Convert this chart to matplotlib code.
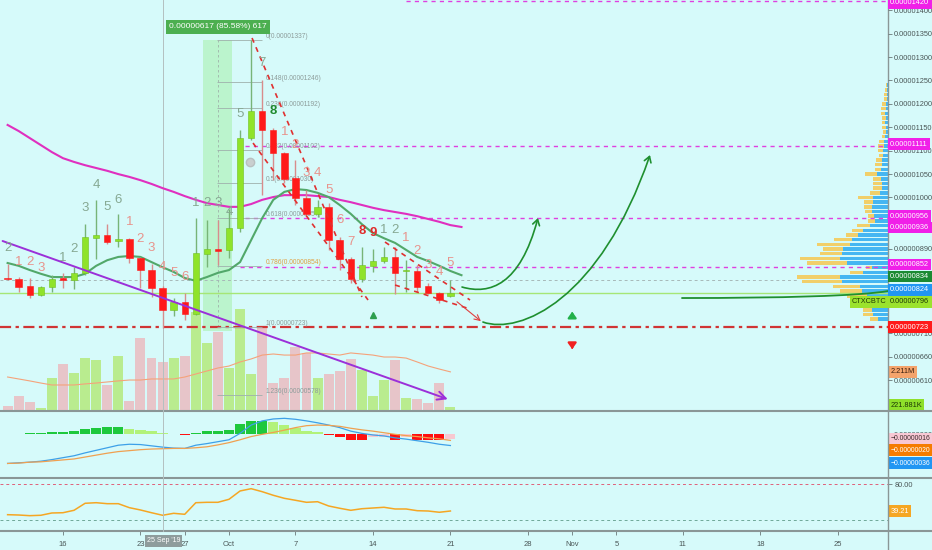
import matplotlib
matplotlib.use('Agg')
import matplotlib.pyplot as plt
import matplotlib.dates as mdates
from matplotlib.lines import Line2D
from matplotlib.patches import FancyArrowPatch, Rectangle
from matplotlib.path import Path
import pandas as pd

plt.rcParams['font.family'] = ['Liberation Sans', 'DejaVu Sans']

FOND = '#d6fafa'
LARG, HAUT = 932, 550

# ============================================================
# DONNEES  (prix en satoshis, 1e-8 BTC)
# ============================================================
dates = pd.date_range('2019-09-11', '2019-10-21', freq='D')

ouverture = [828, 826, 811, 792, 809, 828, 824, 839, 913, 920, 907, 911, 871, 845,
             807, 760, 777, 751, 879, 890, 888, 935, 1127, 1185, 1144, 1095, 1042,
             999, 965, 980, 909, 869, 826, 854, 864, 873, 843, 843, 811, 796, 790]
haut = [858, 830, 828, 811, 834, 839, 851, 943, 995, 943, 965, 913, 873, 858,
        811, 785, 796, 956, 952, 952, 975, 1144, 1337, 1251, 1149, 1097, 1080,
        1016, 995, 988, 916, 873, 894, 890, 894, 894, 866, 856, 817, 798, 824]
bas = [824, 798, 785, 790, 798, 807, 804, 834, 869, 901, 894, 860, 807, 787,
       722, 747, 738, 749, 851, 856, 871, 926, 1123, 1005, 1037, 1031, 984,
       960, 958, 888, 845, 817, 819, 841, 860, 794, 798, 798, 794, 775, 787]
cloture = [825, 809, 792, 809, 826, 824, 839, 916, 920, 905, 911, 871, 845, 807,
           760, 777, 751, 881, 890, 886, 935, 1127, 1185, 1144, 1095, 1040, 999,
           965, 980, 909, 869, 826, 856, 864, 873, 839, 845, 809, 796, 781, 796]

# volume en millions et sa moyenne
volume = [0.28, 0.85, 0.51, 0.17, 1.86, 2.66, 2.15, 2.99, 2.88, 1.47, 3.11, 0.57,
          4.12, 2.99, 2.77, 2.99, 3.11, 5.59, 3.84, 4.46, 2.43, 5.76, 2.09, 4.75,
          1.58, 1.86, 3.62, 3.28, 1.86, 2.09, 2.26, 2.94, 2.32, 0.85, 1.75, 2.88,
          0.73, 0.68, 0.45, 1.58, 0.222]
volume_moy = [1.92, 1.81, 1.70, 1.58, 1.47, 1.47, 1.47, 1.53, 1.58, 1.64, 1.70,
              1.75, 1.75, 1.81, 1.81, 1.81, 1.92, 2.09, 2.26, 2.43, 2.54, 2.77,
              2.94, 3.16, 3.22, 3.16, 3.16, 3.28, 3.28, 3.22, 3.16, 3.28, 3.22,
              3.16, 3.05, 3.05, 2.99, 2.77, 2.54, 2.37, 2.211]

# moyennes mobiles (une valeur de plus : decalage d'un jour)
mm_lente = [1155, 1142, 1127, 1112, 1097, 1084, 1076, 1069, 1063, 1057, 1050, 1044,
            1037, 1029, 1020, 1012, 1003, 995, 988, 984, 980, 980, 986, 995, 1001,
            1005, 1005, 1005, 1003, 1001, 995, 990, 984, 978, 973, 969, 965, 960,
            954, 948, 941, 937]
mm_rapide = [860, 854, 845, 837, 830, 830, 830, 837, 854, 866, 873, 875, 873, 862,
             851, 841, 828, 822, 830, 839, 845, 862, 909, 956, 995, 1012, 1018,
             1016, 1010, 1001, 984, 965, 943, 924, 913, 903, 888, 873, 864, 854,
             843, 834]

# MACD (satoshis)
macd = [-92, -90, -88, -85, -80, -74, -68, -59, -51, -43, -35, -32, -33, -37, -41,
        -44, -45, -35, -30, -24, -18, 2, 28, 41, 47, 49, 46, 41, 35, 28, 20, 9, 2,
        -3, -6, -12, -16, -21, -26, -32, -36]
signal = [-92, -91, -88, -87, -84, -81, -78, -72, -66, -60, -55, -52, -49, -47, -46,
          -45, -45, -43, -40, -34, -27, -18, -8, -1, 5, 12, 20, 26, 28, 27, 24, 18,
          13, 9, 4, -1, -5, -8, -12, -15, -20]
histo = [-0.5, 0.5, 2, 3, 5, 7, 9, 15, 19, 21, 21, 17, 14, 8, 3, 1, -2, 2, 8, 10,
         14, 30, 40, 42, 38, 28, 18, 10, 5, -2, -10, -20, -20, -10, -8, -18, -10,
         -18, -18, -18, -16]

rsi = [33.6, 33.1, 32.1, 32.7, 36.2, 36.6, 40.3, 51.0, 51.9, 50.4, 50.4, 44.3, 40.8,
       36.6, 32.7, 35.7, 34.2, 51.9, 52.5, 52.5, 57.1, 69.8, 73.3, 68.7, 63.2, 58.6,
       55.6, 52.5, 53.4, 46.9, 43.4, 40.3, 42.7, 43.8, 44.9, 42.3, 42.3, 39.7, 39.2,
       37.3, 39.21]

# profil de volume (prix, part bleue, part jaune)
profil_prix = list(range(740, 1250, 10))
profil_bleu = [10, 15, 16, 18, 19, 21, 26, 28, 46, 48, 25, 16, 41, 48, 46, 45, 38,
               36, 30, 25, 18, 13, 14, 16, 16, 15, 15, 8, 6, 6, 7, 11, 7, 6, 6, 5,
               5, 4, 4, 3, 2, 2, 3, 2, 3, 2, 2, 1, 1, 1, 1]
profil_jaune = [8, 10, 9, 10, 12, 20, 22, 27, 40, 43, 13, 6, 40, 40, 22, 20, 33, 18,
                12, 11, 13, 7, 6, 7, 8, 9, 15, 10, 9, 9, 8, 12, 6, 7, 6, 4, 5, 6,
                5, 3, 3, 4, 3, 4, 4, 5, 4, 3, 3, 2, 1]

# comptage sequentiel : (bougie, texte, style, prix)
comptes = [(0, '2', 'g', 892), (1, '1', 's', 862), (2, '2', 's', 862), (3, '3', 's', 849),
           (5, '1', 'g', 871), (6, '2', 'g', 890), (7, '3', 'g', 978), (8, '4', 'g', 1027),
           (9, '5', 'g', 980), (10, '6', 'g', 995), (11, '1', 's', 948), (12, '2', 's', 911),
           (13, '3', 's', 892), (14, '4', 's', 851), (15, '5', 's', 839), (16, '6', 's', 830),
           (17, '1', 'g', 988), (18, '2', 'g', 988), (19, '3', 'g', 988), (20, '4', 'g', 969),
           (21, '5', 'g', 1178), (23, '7', 'g', 1287), (24, '8', 'G', 1185),
           (25, '1', 's', 1140), (26, '2', 's', 1112), (27, '3', 's', 1052),
           (28, '4', 's', 1052), (29, '5', 's', 1016), (30, '6', 's', 952),
           (31, '7', 's', 905), (32, '8', 'R', 928), (33, '9', 'R', 924),
           (34, '1', 'g', 931), (35, '2', 'g', 931), (36, '1', 's', 913),
           (37, '2', 's', 886), (38, '3', 's', 856), (39, '4', 's', 841), (40, '5', 's', 860)]

# retracement de Fibonacci
fib_niveaux = ['0', '0.148', '0.236', '0.382', '0.5', '0.618', '0.786', '1', '1.236']
fib_prix = [1337, 1246, 1192, 1102, 1030, 957, 854, 723, 578]

graduations = [1400, 1350, 1300, 1250, 1200, 1150, 1100, 1050, 1000, 890, 710, 660, 610]
jours_dates = [5, 12, 16, 20, 26, 33, 40, 47, 51, 55, 61, 68, 75]
noms_dates = ['16', '23', '27', 'Oct', '7', '14', '21', '28', 'Nov', '5', '11', '18', '25']

# ============================================================
# MISE EN PAGE
# ============================================================
fig = plt.figure(figsize=(LARG / 100, HAUT / 100), dpi=100, facecolor=FOND)


def panneau(y_haut, y_bas, nom, gauche=0, droite=888):
    return fig.add_axes([gauche / LARG, 1 - y_bas / HAUT, (droite - gauche) / LARG,
                         (y_bas - y_haut) / HAUT], label=nom)


axv = panneau(0, 411, 'volume')
axp = panneau(0, 411, 'profil', gauche=738)
ax = panneau(0, 411, 'prix')
axm = panneau(411, 478, 'macd')
axr = panneau(478, 531, 'rsi')
axv.set_zorder(0)
axp.set_zorder(1)
ax.set_zorder(2)
ax.patch.set_visible(False)
for a in (axm, axr):
    a.set_facecolor(FOND)

x = mdates.date2num(dates)
x0 = x[0]


def j(d):
    return x0 + d


for a in (ax, axv, axm, axr):
    a.set_xlim(j(-0.687), j(79.53))
    for s in a.spines.values():
        s.set_visible(False)
ax.set_ylim(543.8, 1422.0)
axp.set_ylim(543.8, 1422.0)
axp.set_xlim(150, 0)
axv.set_ylim(0, 23.22)
axm.set_ylim(-137.5, 71.9)
axr.set_ylim(8.7, 89.6)
axv.axis('off')
axp.axis('off')

TXT = '#4a5656'
for a in (ax, axm, axr):
    a.yaxis.tick_right()
    a.tick_params(axis='y', length=3, width=0.6, color='#6a7878', labelsize=5.3,
                  labelcolor=TXT, pad=1.5)
ax.set_yticks(graduations)
ax.set_yticklabels([f'{v * 1e-8:.8f}' for v in graduations])
axm.set_yticks([0])
axm.set_yticklabels(['0.00000000'])
axr.set_yticks([80])
axr.set_yticklabels(['80.00'])
ax.set_xticks([])
axm.set_xticks([])
axr.set_xticks([j(d) for d in jours_dates])
axr.set_xticklabels(noms_dates)
axr.tick_params(axis='x', length=3, width=0.6, color='#6a7878', labelsize=5.5,
                labelcolor=TXT, pad=4)

# separateurs
for yy in (411, 478, 531):
    fig.add_artist(Line2D([0, 1], [1 - yy / HAUT] * 2, color='#8a9696', lw=1.5))
fig.add_artist(Line2D([888 / LARG] * 2, [0, 1], color='#8a9696', lw=1))
fig.add_artist(Line2D([162.6 / LARG] * 2, [1 - 531 / HAUT, 1], color='#b3c0c0', lw=0.7))
fig.text(163.5 / LARG, 1 - 541 / HAUT, "25 Sep '19", fontsize=5.0, color='white',
         ha='center', va='center',
         bbox=dict(boxstyle='square,pad=0.3', fc='#8e9c9c', ec='none'))

# ============================================================
# VOLUME + PROFIL
# ============================================================
hausse = [c >= o for o, c in zip(ouverture, cloture)]
axv.bar(x, volume, width=0.9, color=['#b9ec8f' if h else '#e7c5c9' for h in hausse])
axv.plot(x, volume_moy, color='#f5a27a', lw=0.8)

axp.barh(profil_prix, profil_bleu, height=7.5, color='#45b6f2')
axp.barh(profil_prix, profil_jaune, left=profil_bleu, height=7.5, color='#f1cf6a')

# ============================================================
# GRAPHIQUE PRINCIPAL
# ============================================================
ax.add_patch(Rectangle((j(17.65), 715), 2.65, 1337 - 715, fc='#b2f3bf', ec='none',
                       alpha=0.75, zorder=1))
ax.vlines(j(19.0), 723, 1337, colors='#9fb3aa', lw=0.6, linestyles=(0, (3, 3)), zorder=1)

# niveaux horizontaux
ax.hlines([1420], j(36.0), j(79.53), colors='#e040e0', lw=1, linestyles=(0, (3, 3)), zorder=2)
ax.hlines([1111, 956], j(21.45), j(79.53), colors='#e040e0', lw=1, linestyles=(0, (3, 3)), zorder=2)
ax.hlines([852], j(21.0), j(79.53), colors='#e040e0', lw=1, linestyles=(0, (3, 3)), zorder=2)
ax.hlines([824], j(-0.687), j(71.3), colors='#a7b8b8', lw=0.7, linestyles=(0, (3, 3)), zorder=2)
ax.axhline(796, color='#a6e676', lw=1, zorder=2)
ax.axhline(723, color='#d03434', lw=1.6, ls=(0, (5, 2, 1.5, 2)), zorder=2)

# fibonacci
for niv, p in zip(fib_niveaux, fib_prix):
    ax.hlines(p, j(18.9), j(23.0), colors='#9fb0ac', lw=0.6, zorder=2)
    ax.text(j(23.3), p, f'{niv}({p * 1e-8:.8f})', fontsize=4.8,
            color='#e0a040' if niv == '0.786' else '#8d9c9a', va='bottom', zorder=2)

ax.text(j(19.0), 1365, '0.00000617 (85.58%) 617', fontsize=6, color='white',
        ha='center', va='center', zorder=8,
        bbox=dict(boxstyle='square,pad=0.4', fc='#4caf50', ec='none'))

# moyennes mobiles
x_mm = list(x) + [x[-1] + 1]
ax.plot(x_mm, mm_lente, color='#e02fbf', lw=1.5, zorder=3)
ax.plot(x_mm, mm_rapide, color='#52a86a', lw=1.5, zorder=3)

# ligne de tendance violette
ax.annotate('', xy=(j(40), 567), xytext=(j(-0.687), 909), zorder=6,
            arrowprops=dict(arrowstyle='->,head_length=0.6,head_width=0.3',
                            color='#9b30d9', lw=1.4))

# biseau descendant
biseau = [((22.08, 1340.8), (32.01, 787.4)), ((22.17, 1116.4), (32.56, 781.0)),
          ((34.09, 904.9), (41.77, 781.0)), ((35.0, 813.0), (41.77, 761.7))]
for (d1, p1), (d2, p2) in biseau:
    ax.plot([j(d1), j(d2)], [p1, p2], color='#e03030', lw=1.2, ls=(0, (3, 3)), zorder=6)
ax.annotate('', xy=(j(42.95), 732), xytext=(j(40.4), 781), zorder=6,
            arrowprops=dict(arrowstyle='->', color='#e04040', lw=0.8))

# bougies
mv = ['#78b478' if h else '#d88c8c' for h in hausse]
ax.vlines(x, bas, haut, colors=mv, lw=1, zorder=4)
corps_bas = [min(o, c) for o, c in zip(ouverture, cloture)]
corps_h = [max(abs(c - o), 1.5) for o, c in zip(ouverture, cloture)]
ax.bar(x, corps_h, bottom=corps_bas, width=0.58,
       color=['#8fe32a' if h else '#ff1a1a' for h in hausse],
       edgecolor=['#6fc01e' if h else '#ff1a1a' for h in hausse], lw=0.4, zorder=5)

# comptage
styles = {'g': dict(color='#86a892'), 's': dict(color='#e8938c'),
          'G': dict(color='#1f8a2e', fontweight='bold'),
          'R': dict(color='#e02a2a', fontweight='bold')}
for i, t, st, p in comptes:
    ax.text(x[i], p, t, fontsize=9.5, ha='center', va='center', zorder=7, **styles[st])

ax.plot(j(21.9), 1076, 'o', ms=6, color='#c9cfcf', mec='#b8c0c0', zorder=7)
ax.plot(j(33.0), 749, '^', ms=5, color='#2e9e4e', zorder=7)

# fleches de projection
fleches = [[(41.05, 808.7), (43.58, 791.6), (46.29, 813.0), (47.91, 956.2)],
           [(42.94, 733.9), (46.29, 706.2), (53.51, 781.0), (58.03, 1090.8)]]
for pts in fleches:
    chemin = Path([(j(d), p) for d, p in pts], [Path.MOVETO, Path.CURVE4, Path.CURVE4, Path.CURVE4])
    ax.add_patch(FancyArrowPatch(path=chemin, arrowstyle='->,head_length=4,head_width=2.5',
                                 color='#1f8f2f', lw=1.2, zorder=7))
plat = [(60.92, 785.2), (69.77, 785.2), (77.0, 789.5), (79.53, 800.2)]
ax.add_patch(FancyArrowPatch(path=Path([(j(d), p) for d, p in plat],
                                       [Path.MOVETO, Path.CURVE4, Path.CURVE4, Path.CURVE4]),
                             arrowstyle='-', color='#1f8f2f', lw=1.3, zorder=7))
ax.annotate('', xy=(j(51.0), 762), xytext=(j(51.0), 742), zorder=7,
            arrowprops=dict(arrowstyle='-|>,head_length=0.35,head_width=0.25',
                            color='#22b04a', lw=1.6))
ax.annotate('', xy=(j(51.0), 670), xytext=(j(51.0), 689), zorder=7,
            arrowprops=dict(arrowstyle='-|>,head_length=0.35,head_width=0.25',
                            color='#f02020', lw=1.6))

# ============================================================
# MACD et RSI
# ============================================================
couleurs_hist = []
prec = 0
for v in histo:
    if v >= 0:
        couleurs_hist.append('#1ec83c' if v >= prec else '#b2f27a')
    else:
        couleurs_hist.append('#ff1010' if v <= prec else '#f8c8d0')
    prec = v
axm.bar(x, histo, width=0.92, color=couleurs_hist)
axm.plot(x, macd, color='#3da0e8', lw=0.9)
axm.plot(x, signal, color='#f0a050', lw=0.9)

axr.plot(x, rsi, color='#f5a623', lw=1.1)
axr.axhline(80, color='#e0607a', lw=0.7, ls=(0, (3, 3)))
axr.axhline(26, color='#6fa898', lw=0.7, ls=(0, (3, 3)))


# ============================================================
# ETIQUETTES DE L'ECHELLE
# ============================================================
def etiquette(axe, y, texte, fond, couleur='white', decal=0.0, taille=5.3):
    axe.annotate(texte, xy=(1, y), xycoords=('axes fraction', 'data'),
                 xytext=(1.6, decal * 0.72), textcoords='offset points',
                 ha='left', va='center', fontsize=taille, color=couleur, zorder=10,
                 annotation_clip=False,
                 bbox=dict(boxstyle='square,pad=0.3', fc=fond, ec='none'))


MAG = '#f020e8'
etiquette(ax, 1420, '0.00001420', MAG, decal=-2)
etiquette(ax, 1111, '0.00001111', MAG, decal=1.5)
etiquette(ax, 956, '0.00000956', MAG, decal=2)
etiquette(ax, 936, '0.00000936', MAG)
etiquette(ax, 852, '0.00000852', MAG, decal=2)
etiquette(ax, 834, '0.00000834', '#1b8a32', decal=-1.5)
etiquette(ax, 824, '0.00000824', '#2196f3', decal=-10)
etiquette(ax, 796, '0.00000796', '#9be22d', couleur='#1d3a05', decal=-9)
etiquette(ax, 723, '0.00000723', '#ff1a1a')
ax.annotate('CTXCBTC', xy=(1, 796), xycoords=('axes fraction', 'data'),
            xytext=(-1.2, -9 * 0.72), textcoords='offset points', ha='right', va='center',
            fontsize=5.3, color='#1d3a05', zorder=10, annotation_clip=False,
            bbox=dict(boxstyle='square,pad=0.3', fc='#9be22d', ec='none'))
etiquette(axv, volume_moy[-1], '2.211M', '#f4a46c', couleur='#3a2010')
etiquette(axv, volume[-1], '221.881K', '#8ee02a', couleur='#1d3a05', decal=2)
etiquette(axm, histo[-1], '\u22120.00000016', '#f8c8d4', couleur='#3a2a2a', decal=1, taille=4.9)
etiquette(axm, signal[-1], '\u22120.00000020', '#f57c00', decal=-9.6, taille=4.9)
etiquette(axm, macd[-1], '\u22120.00000036', '#2196f3', decal=-17.5, taille=4.9)
etiquette(axr, rsi[-1], '39.21', '#f5a623')

plt.savefig('out.png', dpi=100, facecolor=FOND)
